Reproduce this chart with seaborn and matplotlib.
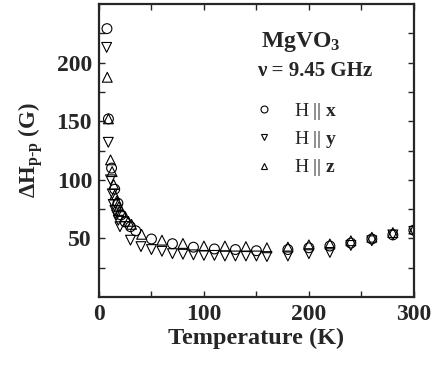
import numpy as np
import pandas as pd
import matplotlib
matplotlib.use("Agg")
import matplotlib.pyplot as plt
from matplotlib.lines import Line2D
import seaborn as sns

# ---- Data (T in K, linewidth in G) ----
T_x = [7.6, 9, 12, 15, 18, 21, 25, 30, 35, 50, 70, 90, 110, 130, 150,
       180, 200, 220, 240, 260, 280, 300]
dH_x = [229, 152, 110, 92, 80, 70, 64, 60, 56.5, 49.5, 45.5, 42.5, 41, 40.5, 39.5,
        40.5, 42, 43.5, 46, 49.5, 53, 57]

T_y = [7.3, 8.9, 11, 12.7, 13.6, 15.2, 16.8, 18.4, 20, 30, 40, 50, 60, 70, 80, 90,
       100, 110, 120, 130, 140, 150, 160, 180, 200, 220, 240, 260, 280, 300]
dH_y = [213, 132, 100, 88, 79, 74, 70, 65.5, 60, 48.5, 43, 40.5, 39, 37, 36.5, 36,
        35.5, 35.5, 35, 35, 35, 35, 34.5, 35, 37, 38, 44, 48, 53, 56]

T_z = [7.9, 9, 11, 12.5, 14, 15, 17, 19, 21.5, 25, 28, 31, 40.6, 60, 80, 100, 120,
       140, 160, 180, 200, 220, 240, 260, 280, 300]
dH_z = [187.5, 152, 117, 107, 96, 87, 82, 77, 73, 68.6, 64.6, 62, 53.5, 48.5, 45.7,
        43.5, 43.5, 43, 42, 42.6, 44.5, 45.3, 48, 51, 55, 58]

series = ["x", "y", "z"]
markers = {"x": "o", "y": "v", "z": "^"}

df = pd.concat([
    pd.DataFrame({"T": T_x, "dH": dH_x, "dir": "x"}),
    pd.DataFrame({"T": T_y, "dH": dH_y, "dir": "y"}),
    pd.DataFrame({"T": T_z, "dH": dH_z, "dir": "z"}),
], ignore_index=True)

# ---- Style ----
sns.set_style("ticks")
plt.rcParams["font.family"] = ["Liberation Serif", "DejaVu Serif"]
plt.rcParams["font.weight"] = "bold"
plt.rcParams["mathtext.fontset"] = "custom"
plt.rcParams["mathtext.rm"] = "Liberation Serif"
plt.rcParams["mathtext.bf"] = "Liberation Serif:bold"
plt.rcParams["mathtext.it"] = "Liberation Serif:italic"

fig = plt.figure(figsize=(4.37, 3.66), dpi=100)
ax = fig.add_axes([0.2265, 0.1885, 0.7205, 0.8005])

for d in series:
    sub = df[df["dir"] == d]
    sns.scatterplot(data=sub, x="T", y="dH", marker=markers[d], s=50,
                    facecolors="none", edgecolor="black", linewidth=0.8,
                    legend=False, ax=ax)

ax.set_xlim(0, 300)
ax.set_ylim(0, 250)
ax.set_xticks([0, 100, 200, 300])
ax.set_xticks([50, 150, 250], minor=True)
ax.set_yticks([50, 100, 150, 200])
ax.set_yticks([25, 75, 125, 175, 225], minor=True)

ax.tick_params(which="both", direction="in", top=True, right=True,
               length=4, width=1.0, labelsize=17, pad=5)
for sp in ax.spines.values():
    sp.set_linewidth(1.6)

ax.set_xlabel("Temperature (K)", fontsize=17.5, fontweight="bold", labelpad=2)
ax.set_ylabel(r"ΔH$_{\mathbf{p}\text{-}\mathbf{p}}$ (G)", fontsize=16.5,
              fontweight="bold", labelpad=8)

ax.text(0.515, 0.87, r"MgVO$_\mathbf{3}$", transform=ax.transAxes,
        fontsize=17, fontweight="bold", va="center", ha="left")
ax.text(0.503, 0.772, "ν = 9.45 GHz", transform=ax.transAxes,
        fontsize=15, fontweight="bold", va="center", ha="left")

handles = [Line2D([], [], linestyle="none", marker=markers[d], markersize=5,
                  markerfacecolor="none", markeredgecolor="black",
                  markeredgewidth=0.8) for d in series]
labels = [r"H || $\mathbf{%s}$" % d for d in series]
leg = ax.legend(handles, labels, loc="center left", bbox_to_anchor=(0.43, 0.537),
                frameon=False, handlelength=1.2, handletextpad=0.95,
                labelspacing=0.37, prop={"size": 14, "weight": "normal"})

fig.savefig("out.png", dpi=100)
